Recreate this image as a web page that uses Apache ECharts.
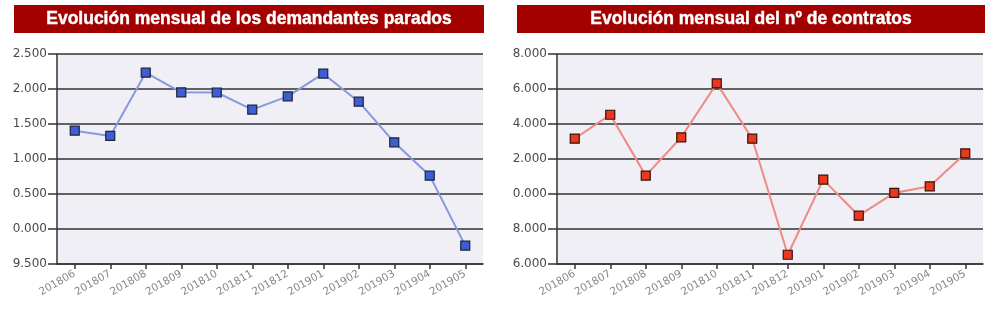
<!DOCTYPE html>
<html>
<head>
<meta charset="utf-8">
<script src="https://cdn.jsdelivr.net/npm/echarts@6/dist/echarts.min.js"></script>
<style>html,body{margin:0;padding:0;background:#fff;}#c{width:994px;height:314px;}</style>
</head>
<body>
<div id="c"></div>
<script>
const categories = ['201806','201807','201808','201809','201810','201811','201812','201901','201902','201903','201904','201905'];
const paradosValues = [11405, 11330, 12233, 11952, 11950, 11705, 11895, 12219, 11819, 11238, 10762, 9762];
const contratosValues = [13160, 14530, 11050, 13240, 16320, 13160, 6530, 10820, 8760, 10060, 10440, 12320];
const leftTitle = 'Evolución mensual de los demandantes parados';
const rightTitle = 'Evolución mensual del nº de contratos';
const leftAxis = {min: 9500, max: 12500, interval: 500};
const rightAxis = {min: 6000, max: 18000, interval: 2000};

function fmt(v) {
  const s = String(Math.round(v)).replace(/\B(?=(\d{3})+(?!\d))/g, '.');
  return s.slice(-5);
}

const chart = echarts.init(document.getElementById('c'), null, {renderer: 'canvas'});

function xAxisCfg(idx) {
  return {
    type: 'category', gridIndex: idx, data: categories, boundaryGap: true,
    axisLine: {show: true, lineStyle: {color: '#333', width: 1.5}},
    axisTick: {show: true, alignWithLabel: true, length: 5, lineStyle: {color: '#333', width: 1.5}},
    axisLabel: {rotate: 30, fontFamily: 'DejaVu Sans', fontSize: 10.5, color: '#888', margin: 9, interval: 0},
    splitLine: {show: false}
  };
}
function yAxisCfg(idx, ax) {
  return {
    type: 'value', gridIndex: idx, min: ax.min, max: ax.max, interval: ax.interval,
    axisLine: {show: true, lineStyle: {color: '#333', width: 1.5}},
    axisTick: {show: true, length: 9, lineStyle: {color: '#333', width: 1.5}},
    axisLabel: {formatter: fmt, fontFamily: 'DejaVu Sans', fontSize: 12, color: '#4a4a4a', margin: 10},
    splitLine: {show: true, lineStyle: {color: '#333', width: 1.5}}
  };
}

function titleGraphic(x, w, text) {
  return {
    type: 'group', left: x, top: 5,
    children: [
      {type: 'rect', shape: {x: 0, y: 0, width: w, height: 28}, style: {fill: '#a30000'}},
      {type: 'text', x: w / 2, y: 14, style: {text: text, fill: '#fff', font: 'bold 17.5px "Liberation Sans", Arial, sans-serif', align: 'center', verticalAlign: 'middle', stroke: '#fff', lineWidth: 0.4}}
    ]
  };
}

chart.setOption({
  animation: false,
  backgroundColor: '#fff',
  graphic: [titleGraphic(14, 470, leftTitle), titleGraphic(517, 468, rightTitle)],
  grid: [
    {left: 57, top: 54, width: 426, height: 210, show: true, backgroundColor: '#efeff5', borderWidth: 0},
    {left: 557, top: 54, width: 426, height: 210, show: true, backgroundColor: '#efeff5', borderWidth: 0}
  ],
  xAxis: [xAxisCfg(0), xAxisCfg(1)],
  yAxis: [yAxisCfg(0, leftAxis), yAxisCfg(1, rightAxis)],
  series: [
    {
      type: 'line', xAxisIndex: 0, yAxisIndex: 0, data: paradosValues,
      symbol: 'rect', symbolSize: 9,
      lineStyle: {color: '#8898dd', width: 2},
      itemStyle: {color: '#3c5ed0', borderColor: '#1a2340', borderWidth: 1.2}
    },
    {
      type: 'line', xAxisIndex: 1, yAxisIndex: 1, data: contratosValues,
      symbol: 'rect', symbolSize: 9,
      lineStyle: {color: '#f08a84', width: 2},
      itemStyle: {color: '#e8381e', borderColor: '#3a1008', borderWidth: 1.2}
    }
  ]
});
</script>
</body>
</html>
